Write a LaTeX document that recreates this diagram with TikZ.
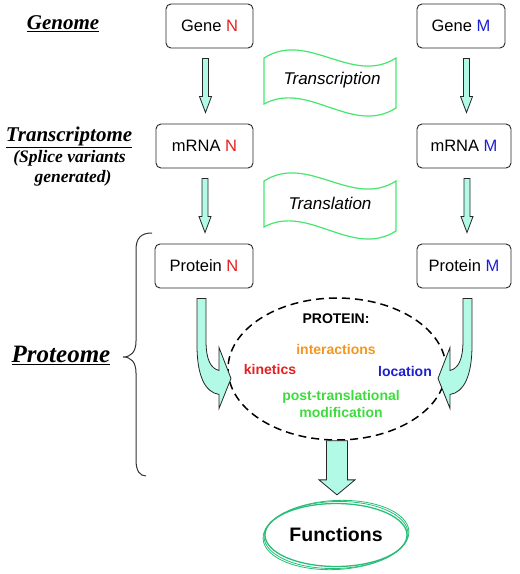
\documentclass[tikz,border=0pt]{standalone}
\usepackage{fontspec}
\setmainfont{Liberation Sans}
\newfontfamily\timesf{Liberation Serif}
\usetikzlibrary{calc,shapes.geometric}
\definecolor{nred}{RGB}{230,30,30}
\definecolor{mblue}{RGB}{30,30,210}
\definecolor{iorange}{RGB}{245,150,30}
\definecolor{pgreen}{RGB}{60,220,60}
\definecolor{afill}{RGB}{178,250,230}
\definecolor{bgreen}{RGB}{70,230,110}
\definecolor{fgreen}{RGB}{40,190,120}
\tikzset{
  box/.style={draw=black!85, rounded corners=5pt, line width=0.9pt, minimum height=44pt, inner sep=0pt, font=\fontsize{16.5}{19}\selectfont},
  blockarrow/.style={draw=black!85, fill=afill, line width=0.8pt, line join=miter},
  banner/.style={draw=bgreen, line width=1.2pt},
  bannertext/.style={font=\fontsize{17}{20}\selectfont\itshape},
  lvl/.style={font=\timesf\bfseries\itshape\fontsize{21}{24}\selectfont, inner sep=0pt},
  sublvl/.style={font=\timesf\bfseries\itshape\fontsize{17.5}{20}\selectfont, inner sep=0pt},
  intext/.style={font=\bfseries\fontsize{14}{16}\selectfont, inner sep=0pt},
}
% straight block arrow from node #1 (south) to node #2 (north), x offset #3 from target centre, shaft half #4, head half #5
\newcommand{\blockdown}[5]{%
  \draw[blockarrow] let \p1=(#1.south), \p2=(#2.north) in
    (\x2+#3pt-#4pt, \y1-10pt) -- (\x2+#3pt+#4pt, \y1-10pt) -- (\x2+#3pt+#4pt, \y2+27pt)
    -- (\x2+#3pt+#5pt, \y2+27pt) -- (\x2+#3pt, \y2+11pt) -- (\x2+#3pt-#5pt, \y2+27pt)
    -- (\x2+#3pt-#4pt, \y2+27pt) -- cycle;}
\begin{document}
\begin{tikzpicture}[x=1pt,y=-1pt]
\useasboundingbox (0,0) rectangle (520,574);

% boxes
\node[box, minimum width=87pt] (geneN) at (209.5,26) {Gene \textcolor{nred}{N}};
\node[box, minimum width=88pt] (geneM) at (461,26) {Gene \textcolor{mblue}{M}};
\node[box, minimum width=97pt] (mrnaN) at (204.5,146) {mRNA \textcolor{nred}{N}};
\node[box, minimum width=94pt] (mrnaM) at (464,146) {mRNA \textcolor{mblue}{M}};
\node[box, minimum width=98pt] (protN) at (204,266) {Protein \textcolor{nred}{N}};
\node[box, minimum width=94pt] (protM) at (464,266) {Protein \textcolor{mblue}{M}};

% left labels
\node[lvl] (genome) at (63,24) {\underline{Genome}};
\node[lvl] (transcriptome) at (69,137) {\underline{Transcriptome}};
\node[sublvl] (splice) at (69.5,158) {(Splice variants};
\node[sublvl] (generated) at (73,178) {generated)};
\node[lvl, font=\timesf\bfseries\itshape\fontsize{25}{28}\selectfont] (proteome) at (61,355) {\underline{Proteome}};

% brace
\draw[line width=1pt, black!80] (152,233) .. controls (141,233) and (136,238) .. (136,250)
  -- (136,341) .. controls (136,352) and (131,357) .. (123,357)
  .. controls (131,357) and (136,362) .. (136,373)
  -- (136,460) .. controls (136,471) and (140,476) .. (146,476);

% banners
\draw[banner] (264,58) .. controls (308,30) and (352,86) .. (396,58) -- (396,108)
  .. controls (352,136) and (308,80) .. (264,104) -- cycle;
\node[bannertext] (transcription) at (332,80) {Transcription};
\draw[banner] (264,181) .. controls (308,153) and (352,209) .. (396,181) -- (396,231)
  .. controls (352,259) and (308,203) .. (264,227) -- cycle;
\node[bannertext] (translation) at (330,203) {Translation};

% straight block arrows
\blockdown{geneN}{mrnaN}{1}{3}{6}
\blockdown{geneM}{mrnaM}{2.5}{3}{6}
\blockdown{mrnaN}{protN}{1}{3}{6}
\blockdown{mrnaM}{protM}{3}{3}{6}

% protein ellipse
\node[draw, ellipse, line width=1.5pt, dash pattern=on 8pt off 5pt, minimum width=218pt, minimum height=142pt] (pell) at (337,369) {};
\node[intext] (ptitle) at (336,319) {PROTEIN:};
\node[intext, text=iorange] (inter) at (336,349) {interactions};
\node[intext, text=nred] (kin) at (270,369) {kinetics};
\node[intext, text=mblue] (loc) at (405,371) {location};
\node[intext, text=pgreen, align=center, font=\bfseries\fontsize{14}{17}\selectfont] (ptm) at (341,403.5) {post-translational\\modification};

% curved arrows
\begin{scope}[shift={(protN.south)}]
\draw[blockarrow] (-7,10) -- (2,10) -- (2,52) .. controls (2,72) and (7,80) .. (15,82)
  -- (15,59) -- (27,90) -- (15,120) -- (15,106) .. controls (1,104) and (-7,87) .. (-7,57) -- cycle;
\end{scope}
\begin{scope}[shift={(protM.south)}, xscale=-1]
\draw[blockarrow] (-8,10) -- (1,10) -- (1,52) .. controls (1,72) and (6,80) .. (14,82)
  -- (14,59) -- (26,90) -- (14,120) -- (14,106) .. controls (0,104) and (-8,87) .. (-8,57) -- cycle;
\end{scope}

% functions
\node[ellipse, draw=fgreen, line width=1.3pt, minimum width=142pt, minimum height=63pt, font=\bfseries\fontsize{19.5}{22}\selectfont] (func) at (336,535) {Functions};
\draw[fgreen, line width=0.8pt] (func.center) ellipse [x radius=72, y radius=33.5, rotate=1.5];
\draw[fgreen, line width=0.8pt] (func.center) ellipse [x radius=73, y radius=34.5, rotate=3];

\draw[blockarrow] let \p1=(pell.south), \p2=(func.north) in
  (\x1-10.5pt, \y1) -- (\x1+10.5pt, \y1) -- (\x1+10.5pt, \y2+23pt) -- (\x1+18pt, \y2+23pt)
  -- (\x1, \y2+8pt) -- (\x1-18pt, \y2+23pt) -- (\x1-10.5pt, \y2+23pt) -- cycle;
\end{tikzpicture}
\end{document}
